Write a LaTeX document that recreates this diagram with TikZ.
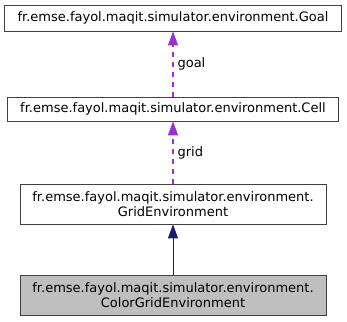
\documentclass[tikz,border=0pt]{standalone}
\usepackage{fontspec}
\setmainfont{DejaVu Sans}
\usetikzlibrary{arrows.meta}
\definecolor{orchid}{HTML}{9A32CD}
\definecolor{midnight}{HTML}{191970}

\begin{document}
\begin{tikzpicture}[x=1pt, y=-1pt,
   cls/.style={rectangle,draw=black!75,line width=0.8pt,fill=white,
     align=center,inner sep=0pt,font=\fontsize{13}{14.5}\selectfont},
   current/.style={cls,fill=black!25},
   usage/.style={-{Triangle[length=14pt,width=10pt]},draw=orchid,line width=1.1pt,
     dash pattern=on 5pt off 5pt},
   inherit/.style={-{Triangle[length=14pt,width=10pt]},draw=midnight,fill=midnight,line width=0.9pt},
   lbl/.style={font=\fontsize{13}{14.5}\selectfont,text=black,anchor=west,inner sep=0pt}]
\useasboundingbox (0,0) rectangle (347,321);
\node[cls, minimum width=337pt, minimum height=26pt] (goal) at (173, 18)
  {fr.emse.fayol.maqit.simulator.environment.Goal};
\node[cls, minimum width=331pt, minimum height=24pt] (cell) at (173, 109)
  {fr.emse.fayol.maqit.simulator.environment.Cell};
\node[cls, minimum width=306pt, minimum height=40pt] (grid) at (173, 204)
  {fr.emse.fayol.maqit.simulator.environment.\\GridEnvironment};
\node[current, minimum width=306pt, minimum height=40pt] (color) at (173, 295)
  {fr.emse.fayol.maqit.simulator.environment.\\ColorGridEnvironment};

\draw[usage] (cell) -- node[lbl, xshift=4pt]{goal} (goal);
\draw[usage] (grid) -- node[lbl, xshift=4pt]{grid} (cell);
\draw[inherit] (color) -- (grid);

\end{tikzpicture}
\end{document}
